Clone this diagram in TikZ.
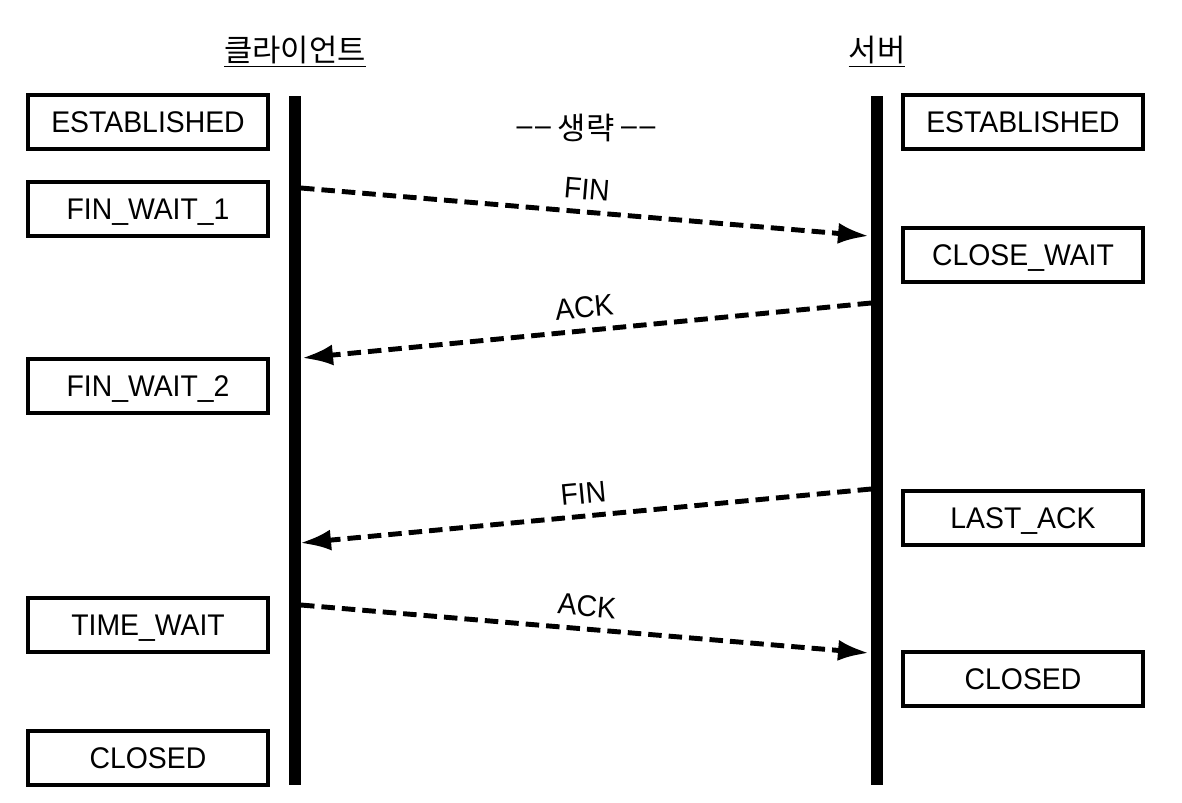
\documentclass[tikz,border=0pt]{standalone}
\usepackage{fontspec}
\setmainfont{Liberation Sans}[FakeStretch=0.95]
\newfontfamily\krfont{Noto Sans CJK KR}
\usetikzlibrary{arrows.meta}

\newcommand{\skipdash}{\raisebox{2.5pt}{\rmfamily\fontsize{17}{17}\selectfont –\kern1.5pt–}}

\tikzset{
    state/.style={draw, line width=2.3pt, minimum width=4.8cm, minimum height=1.08cm, inner sep=0pt,
        text height=12.2pt, text depth=0pt, font=\fontsize{17}{17}\selectfont},
    head/.style={anchor=base, inner sep=0pt, font=\krfont\fontsize{17.5}{17.5}\selectfont},
    lifeline/.style={line width=6.6pt},
    msg/.style={line width=2.8pt, dash pattern=on 0.27cm off 0.14cm, -{Latex[length=0.62cm,width=0.42cm]}},
    msglabel/.style={sloped, above=0.2cm, inner sep=0pt, font=\fontsize{17}{17}\selectfont}
}

\begin{document}
\begin{tikzpicture}[x=0.02cm, y=-0.02cm]
    \useasboundingbox (0,0) rectangle (1182,802);

    % Client side
    \begin{scope}[name=client]
    \node[head] (cliHead) at (295,61) {\underline{클라이언트}}; % header
    \draw[lifeline] (295,96) coordinate (cliTop) -- (295,785) coordinate (cliBot); % lifeline
    \node[state] (cliEst) at (148,122) {ESTABLISHED};
    \node[state] (cliFw1) at (148,209) {FIN\_WAIT\_1};
    \node[state] (cliFw2) at (148,386) {FIN\_WAIT\_2};
    \node[state] (cliTw) at (148,625) {TIME\_WAIT};
    \node[state] (cliClosed) at (148,758) {CLOSED};
    \end{scope}

    % Server side
    \begin{scope}[name=server]
    \node[head] (srvHead) at (877,61) {\underline{서버}}; % header
    \draw[lifeline] (877,96) coordinate (srvTop) -- (877,785) coordinate (srvBot); % lifeline
    \node[state] (srvEst) at (1023,122) {ESTABLISHED};
    \node[state] (srvCw) at (1023,255) {CLOSE\_WAIT};
    \node[state] (srvLa) at (1023,518) {LAST\_ACK};
    \node[state] (srvClosed) at (1023,679) {CLOSED};
    \end{scope}

    \node[head, anchor=center] (skip) at (586,128) {\skipdash{} 생략 \skipdash};

    % message end points on the lifelines
    \coordinate (fin1A) at (301,188);
    \coordinate (fin1B) at (869,236);
    \coordinate (ack1A) at (871,303);
    \coordinate (ack1B) at (302,358);
    \coordinate (fin2A) at (871,489);
    \coordinate (fin2B) at (300,543);
    \coordinate (ack2A) at (301,605);
    \coordinate (ack2B) at (869,653);

    \draw[msg] (fin1A) -- node[msglabel] (fin1L) {FIN} (fin1B);
    \draw[msg] (ack1A) -- node[msglabel] (ack1L) {ACK} (ack1B);
    \draw[msg] (fin2A) -- node[msglabel] (fin2L) {FIN} (fin2B);
    \draw[msg] (ack2A) -- node[msglabel] (ack2L) {ACK} (ack2B);
\end{tikzpicture}
\end{document}
